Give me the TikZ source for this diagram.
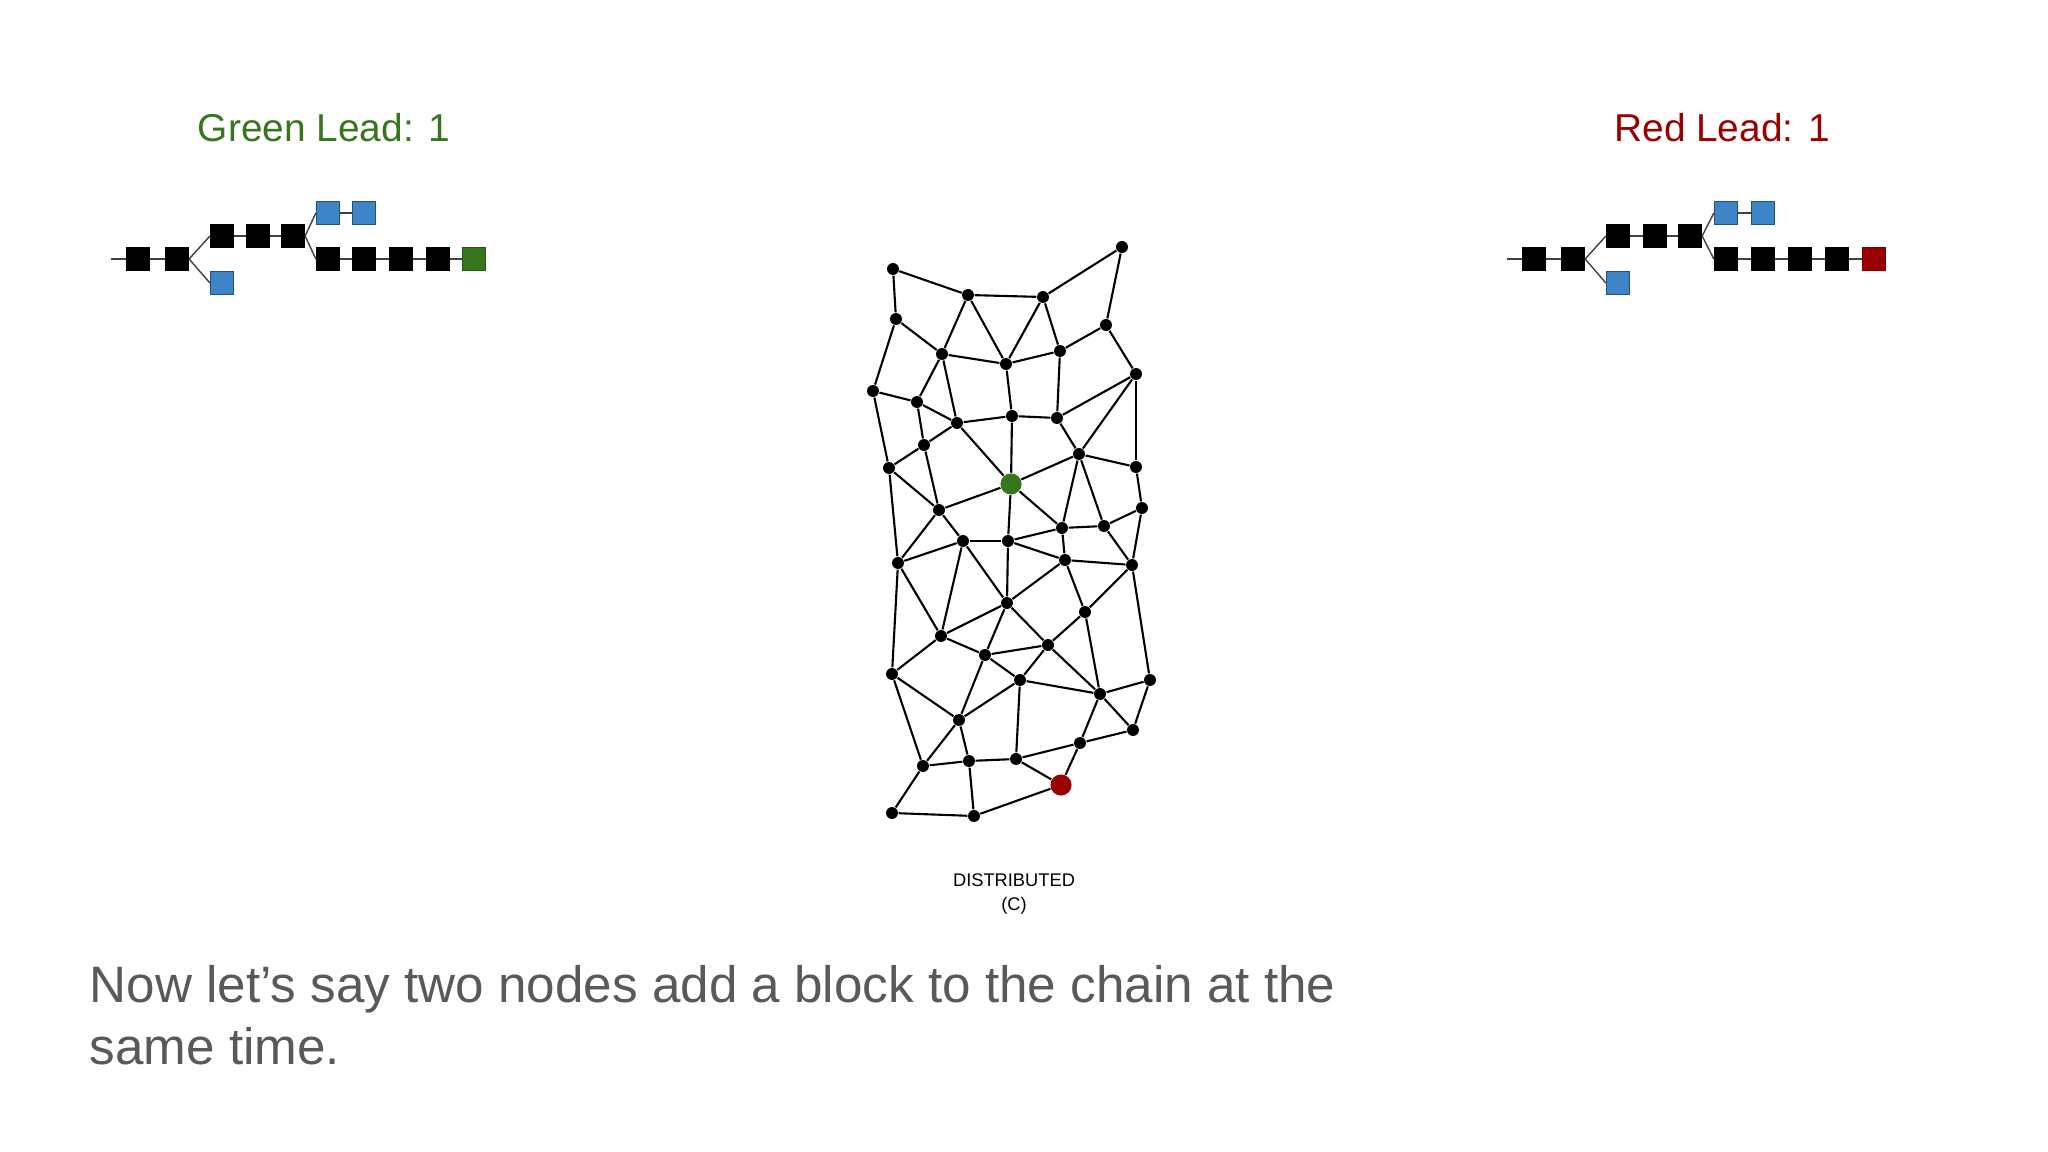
\documentclass[tikz,border=0pt]{standalone}
\usepackage{fontspec}
\setmainfont{Liberation Sans}
\definecolor{leadgreen}{HTML}{38761D}
\definecolor{leadred}{HTML}{990000}
\definecolor{forkblue}{HTML}{3D85C6}
\definecolor{slategrey}{HTML}{595959}
\tikzstyle{block}=[rectangle,draw=black,fill=black,inner sep=0mm,minimum size=6.6pt,line width=0.3pt]
\tikzstyle{forkblock}=[block,draw=forkblue!60!black,fill=forkblue]
\tikzstyle{greenblock}=[block,draw=leadgreen!70!black,fill=leadgreen]
\tikzstyle{redblock}=[block,draw=leadred!80!black,fill=leadred]
\tikzstyle{peer}=[circle,fill=black,inner sep=0mm,minimum size=3.4pt]
\tikzstyle{bigpeer}=[circle,inner sep=0mm,minimum size=6pt]
\tikzstyle{link}=[line width=0.6pt,black]
\tikzstyle{chain}=[line width=0.4pt,black!75]
\tikzstyle{lead}=[font=\fontsize{11.05}{13}\selectfont,anchor=base]
\begin{document}
\begin{tikzpicture}[x=0.01cm,y=-0.01cm]
      \useasboundingbox (0,0) rectangle (2048,1152);
      % labels
      \node[lead,text=leadgreen] at (324,142) (greenlead) {Green Lead: 1};
      \node[lead,text=leadred] at (1722,142) (redlead) {Red Lead: 1};
      \node[anchor=base,align=center,font=\fontsize{5.2}{6.8}\selectfont] at (1014,910) (caption) {DISTRIBUTED\\(C)};
      \node[anchor=base west,align=left,text=slategrey,font=\fontsize{14.56}{17.4}\selectfont,inner sep=0pt] at (89,1064) (note) {Now let’s say two nodes add a block to the chain at the\\same time.};
      % green chain
      \coordinate (gstart) at (111,259);
      \node[block] at (138,259) (g1) {};
      \node[block] at (177,259) (g2) {};
      \node[block] at (222,236) (g3) {};
      \node[block] at (258,236) (g4) {};
      \node[block] at (293,236) (g5) {};
      \node[forkblock] at (222,283) (gf1) {};
      \node[forkblock] at (328,213) (gf2) {};
      \node[forkblock] at (364,213) (gf3) {};
      \node[block] at (328,259) (g6) {};
      \node[block] at (364,259) (g7) {};
      \node[block] at (401,259) (g8) {};
      \node[block] at (438,259) (g9) {};
      \node[greenblock] at (474,259) (g10) {};
      \draw[chain] (gstart)--(g1);
      \draw[chain] (g1)--(g2);
      \draw[chain] (g2.east)--(g3.west);
      \draw[chain] (g2.east)--(gf1.west);
      \draw[chain] (g3)--(g4);
      \draw[chain] (g4)--(g5);
      \draw[chain] (g5.east)--(gf2.west);
      \draw[chain] (gf2)--(gf3);
      \draw[chain] (g5.east)--(g6.west);
      \draw[chain] (g6)--(g7);
      \draw[chain] (g7)--(g8);
      \draw[chain] (g8)--(g9);
      \draw[chain] (g9)--(g10);
      % red chain
      \coordinate (rstart) at (1507,259);
      \node[block] at (1534,259) (r1) {};
      \node[block] at (1573,259) (r2) {};
      \node[block] at (1618,236) (r3) {};
      \node[block] at (1655,236) (r4) {};
      \node[block] at (1690,236) (r5) {};
      \node[forkblock] at (1618,283) (rf1) {};
      \node[forkblock] at (1726,213) (rf2) {};
      \node[forkblock] at (1763,213) (rf3) {};
      \node[block] at (1726,259) (r6) {};
      \node[block] at (1763,259) (r7) {};
      \node[block] at (1800,259) (r8) {};
      \node[block] at (1837,259) (r9) {};
      \node[redblock] at (1874,259) (r10) {};
      \draw[chain] (rstart)--(r1);
      \draw[chain] (r1)--(r2);
      \draw[chain] (r2.east)--(r3.west);
      \draw[chain] (r2.east)--(rf1.west);
      \draw[chain] (r3)--(r4);
      \draw[chain] (r4)--(r5);
      \draw[chain] (r5.east)--(rf2.west);
      \draw[chain] (rf2)--(rf3);
      \draw[chain] (r5.east)--(r6.west);
      \draw[chain] (r6)--(r7);
      \draw[chain] (r7)--(r8);
      \draw[chain] (r8)--(r9);
      \draw[chain] (r9)--(r10);
      % network
      \node[peer] at (893,269) (p1) {};
      \node[peer] at (968,295) (p2) {};
      \node[peer] at (1043,297) (p3) {};
      \node[peer] at (1122,247) (p4) {};
      \node[peer] at (896,319) (p5) {};
      \node[peer] at (942,354) (p6) {};
      \node[peer] at (1006,364) (p7) {};
      \node[peer] at (1060,351) (p8) {};
      \node[peer] at (1106,325) (p9) {};
      \node[peer] at (1136,374) (p10) {};
      \node[peer] at (873,391) (p11) {};
      \node[peer] at (917,402) (p12) {};
      \node[peer] at (957,423) (p13) {};
      \node[peer] at (1012,416) (p14) {};
      \node[peer] at (1057,418) (p15) {};
      \node[peer] at (924,445) (p16) {};
      \node[peer] at (889,468) (p17) {};
      \node[peer] at (1079,454) (p18) {};
      \node[peer] at (1136,467) (p19) {};
      \node[peer] at (1142,508) (p20) {};
      \node[peer] at (939,510) (p21) {};
      \node[peer] at (1062,528) (p22) {};
      \node[peer] at (1104,526) (p23) {};
      \node[peer] at (963,541) (p24) {};
      \node[peer] at (1008,541) (p25) {};
      \node[peer] at (898,563) (p26) {};
      \node[peer] at (1065,560) (p27) {};
      \node[peer] at (1132,565) (p28) {};
      \node[peer] at (1007,603) (p29) {};
      \node[peer] at (1085,612) (p30) {};
      \node[peer] at (941,636) (p31) {};
      \node[peer] at (1048,645) (p32) {};
      \node[peer] at (985,655) (p33) {};
      \node[peer] at (1020,680) (p34) {};
      \node[peer] at (892,674) (p35) {};
      \node[peer] at (1150,680) (p36) {};
      \node[peer] at (1100,694) (p37) {};
      \node[peer] at (959,720) (p38) {};
      \node[peer] at (1133,730) (p39) {};
      \node[peer] at (1080,743) (p40) {};
      \node[peer] at (923,766) (p41) {};
      \node[peer] at (969,761) (p42) {};
      \node[peer] at (1016,759) (p43) {};
      \node[peer] at (892,813) (p44) {};
      \node[peer] at (974,816) (p45) {};
      \node[bigpeer,fill=leadgreen] at (1011,484) (pgreen) {};
      \node[bigpeer,fill=leadred] at (1061,785) (pred) {};
      \draw[link] (p1)--(p2);
      \draw[link] (p2)--(p3);
      \draw[link] (p3)--(p4);
      \draw[link] (p4)--(p9);
      \draw[link] (p1)--(p5);
      \draw[link] (p5)--(p6);
      \draw[link] (p5)--(p11);
      \draw[link] (p2)--(p6);
      \draw[link] (p2)--(p7);
      \draw[link] (p3)--(p7);
      \draw[link] (p3)--(p8);
      \draw[link] (p6)--(p7);
      \draw[link] (p7)--(p8);
      \draw[link] (p8)--(p9);
      \draw[link] (p9)--(p10);
      \draw[link] (p6)--(p12);
      \draw[link] (p6)--(p13);
      \draw[link] (p11)--(p12);
      \draw[link] (p12)--(p13);
      \draw[link] (p12)--(p16);
      \draw[link] (p16)--(p13);
      \draw[link] (p16)--(p17);
      \draw[link] (p11)--(p17);
      \draw[link] (p13)--(p14);
      \draw[link] (p14)--(p15);
      \draw[link] (p7)--(p14);
      \draw[link] (p8)--(p15);
      \draw[link] (p15)--(p10);
      \draw[link] (p15)--(p18);
      \draw[link] (p10)--(p18);
      \draw[link] (p10)--(p19);
      \draw[link] (p18)--(p19);
      \draw[link] (p19)--(p20);
      \draw[link] (p13)--(pgreen);
      \draw[link] (p14)--(pgreen);
      \draw[link] (pgreen)--(p18);
      \draw[link] (p21)--(pgreen);
      \draw[link] (p16)--(p21);
      \draw[link] (p17)--(p21);
      \draw[link] (pgreen)--(p25);
      \draw[link] (pgreen)--(p22);
      \draw[link] (p18)--(p22);
      \draw[link] (p18)--(p23);
      \draw[link] (p20)--(p23);
      \draw[link] (p20)--(p28);
      \draw[link] (p23)--(p22);
      \draw[link] (p22)--(p25);
      \draw[link] (p22)--(p27);
      \draw[link] (p23)--(p28);
      \draw[link] (p27)--(p28);
      \draw[link] (p25)--(p27);
      \draw[link] (p24)--(p25);
      \draw[link] (p21)--(p24);
      \draw[link] (p21)--(p26);
      \draw[link] (p24)--(p26);
      \draw[link] (p17)--(p26);
      \draw[link] (p25)--(p29);
      \draw[link] (p24)--(p29);
      \draw[link] (p24)--(p31);
      \draw[link] (p26)--(p31);
      \draw[link] (p26)--(p35);
      \draw[link] (p27)--(p29);
      \draw[link] (p27)--(p30);
      \draw[link] (p28)--(p30);
      \draw[link] (p28)--(p36);
      \draw[link] (p30)--(p32);
      \draw[link] (p30)--(p37);
      \draw[link] (p29)--(p32);
      \draw[link] (p29)--(p33);
      \draw[link] (p29)--(p31);
      \draw[link] (p31)--(p33);
      \draw[link] (p31)--(p35);
      \draw[link] (p33)--(p32);
      \draw[link] (p33)--(p34);
      \draw[link] (p34)--(p32);
      \draw[link] (p32)--(p37);
      \draw[link] (p34)--(p37);
      \draw[link] (p36)--(p37);
      \draw[link] (p36)--(p39);
      \draw[link] (p37)--(p39);
      \draw[link] (p37)--(p40);
      \draw[link] (p39)--(p40);
      \draw[link] (p40)--(p43);
      \draw[link] (p40)--(pred);
      \draw[link] (p43)--(pred);
      \draw[link] (p43)--(p34);
      \draw[link] (p34)--(p38);
      \draw[link] (p33)--(p38);
      \draw[link] (p35)--(p38);
      \draw[link] (p35)--(p41);
      \draw[link] (p38)--(p41);
      \draw[link] (p38)--(p42);
      \draw[link] (p41)--(p42);
      \draw[link] (p42)--(p43);
      \draw[link] (p41)--(p44);
      \draw[link] (p44)--(p45);
      \draw[link] (p42)--(p45);
      \draw[link] (p45)--(pred);
    \end{tikzpicture}
\end{document}
